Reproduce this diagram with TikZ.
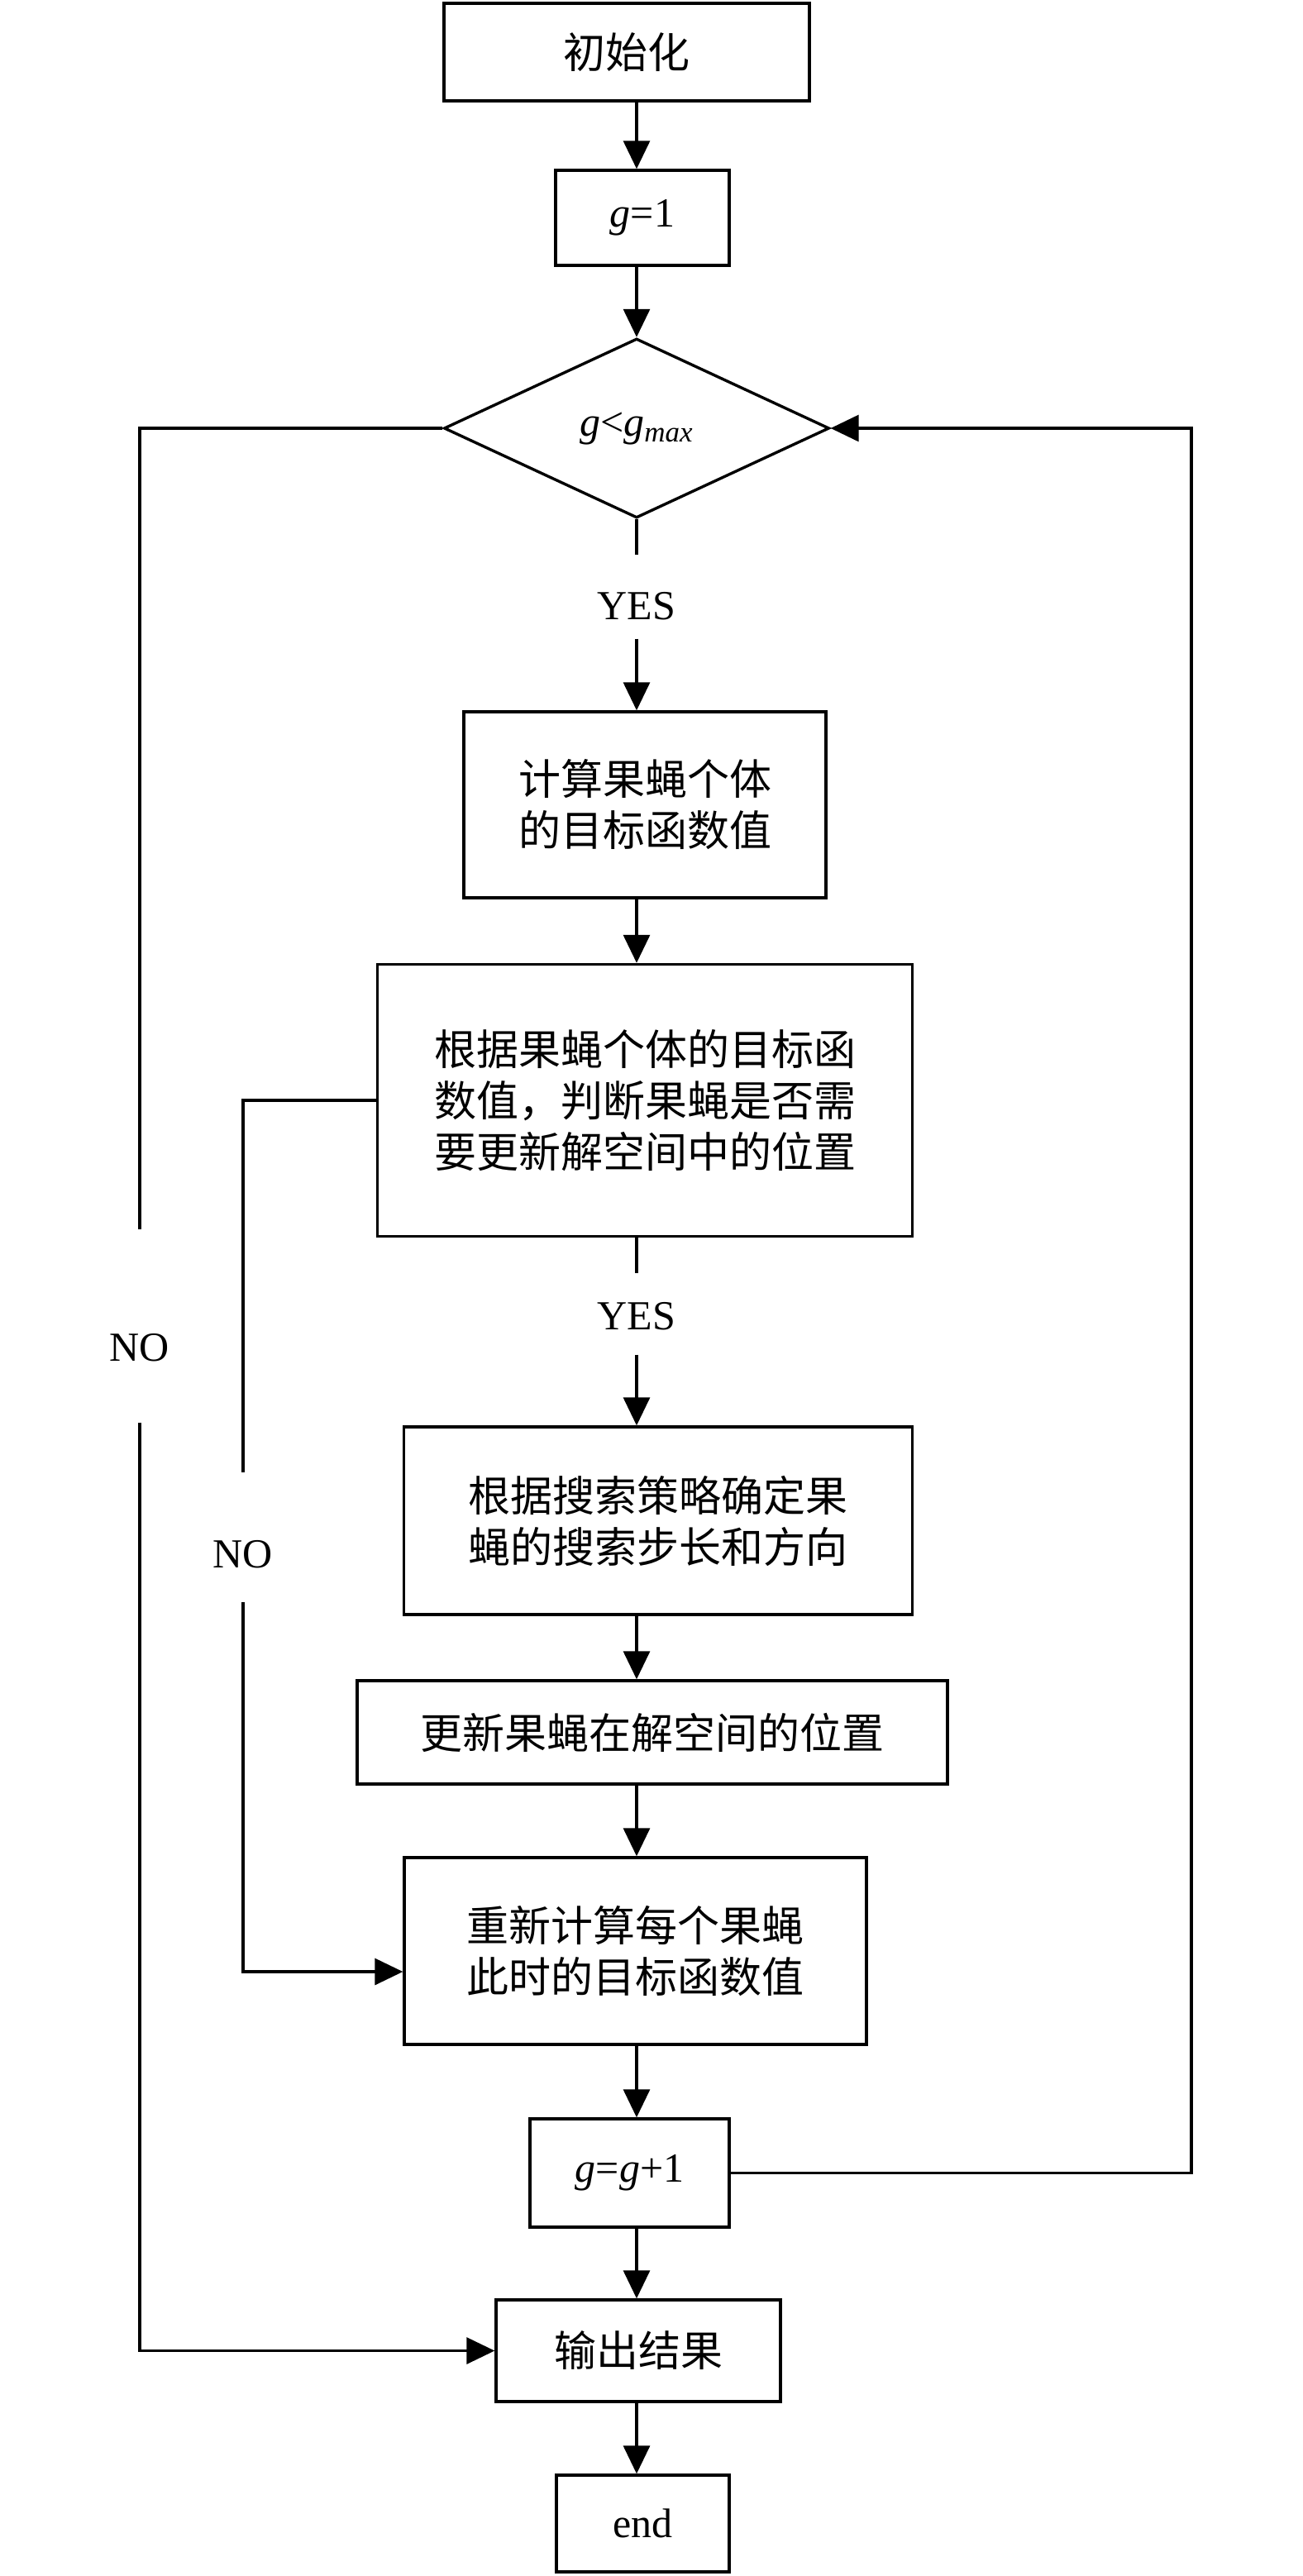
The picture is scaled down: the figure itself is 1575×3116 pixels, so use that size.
\documentclass[tikz,border=0pt]{standalone}
\usepackage{fontspec}
\setmainfont{Liberation Serif}
\newfontfamily\cjk{Noto Sans CJK SC}
\usetikzlibrary{arrows.meta,shapes.geometric}
\begin{document}
\begin{tikzpicture}[x=0.5pt,y=-0.5pt,
  box/.style={draw, line width=1.7pt, inner sep=0pt, align=center,
    font=\cjk\fontsize{25.5pt}{31pt}\selectfont},
  mbox/.style={box, font=\fontsize{25pt}{30pt}\selectfont},
  lbl/.style={inner sep=0pt, font=\fontsize{25pt}{30pt}\selectfont},
  conn/.style={line width=1.6pt},
  arr/.style={conn, -{Triangle[length=17pt,width=16pt]}}]
\useasboundingbox (0,0) rectangle (1575,3116);
\coordinate (ax) at (770,0);
\coordinate (rc) at (1441,0);

\node[box, minimum width=221pt, minimum height=59pt] (init) at (758,63) {初始化};
\node[mbox, minimum width=105pt, minimum height=57.5pt] (g1) at (777,263.5) {\textit{g}=1};
\node[draw, line width=1.7pt, shape=diamond, inner sep=0pt, minimum width=233pt, minimum height=108.5pt,
  font=\fontsize{25pt}{30pt}\selectfont] (dia) at (770,518) {\textit{g}<\textit{g}\textsubscript{\textit{max}}};
\node[lbl] (yes1) at (770,733) {YES};
\node[box, minimum width=219pt, minimum height=112.5pt] (calc1) at (780,973.5) {计算果蝇个体\\的目标函数值};
\node[box, minimum width=323.5pt, minimum height=164.5pt] (judge) at (780,1331) {根据果蝇个体的目标函\\数值，判断果蝇是否需\\要更新解空间中的位置};
\node[lbl] (yes2) at (770,1592) {YES};
\node[box, minimum width=307.5pt, minimum height=113.5pt] (search) at (796,1839.5) {根据搜索策略确定果\\蝇的搜索步长和方向};
\node[box, minimum width=357pt, minimum height=62.5pt] (update) at (789,2095.5) {更新果蝇在解空间的位置};
\node[box, minimum width=279.5pt, minimum height=113pt] (recalc) at (768.5,2360) {重新计算每个果蝇\\此时的目标函数值};
\node[mbox, minimum width=120.5pt, minimum height=65.5pt] (gg1) at (761.5,2628.5) {\textit{g}=\textit{g}+1};
\node[box, minimum width=172pt, minimum height=61.5pt] (out) at (772,2843.5) {输出结果};
\node[mbox, minimum width=104.5pt, minimum height=58.5pt] (end) at (777.5,3052.5) {end};
\node[lbl] (no1) at (169,1630) {NO};
\node[lbl] (no2) at (294,1880) {NO};

% main flow
\draw[arr] (init.south -| ax) -- (g1.north -| ax);
\draw[arr] (g1.south -| ax) -- (dia.north);
\draw[conn] (dia.south) -- ([yshift=22.25pt]yes1.north);
\draw[arr] ([yshift=-11.25pt]yes1.south) -- (calc1.north -| ax);
\draw[arr] (calc1.south -| ax) -- (judge.north -| ax);
\draw[conn] (judge.south -| ax) -- ([yshift=17.25pt]yes2.north);
\draw[arr] ([yshift=-14.75pt]yes2.south) -- (search.north -| ax);
\draw[arr] (search.south -| ax) -- (update.north -| ax);
\draw[arr] (update.south -| ax) -- (recalc.north -| ax);
\draw[arr] (recalc.south -| ax) -- (gg1.north -| ax);
\draw[arr] (gg1.south -| ax) -- (out.north -| ax);
\draw[arr] (out.south -| ax) -- (end.north -| ax);

% outer NO loop
\draw[conn] (dia.west) -| ([yshift=62.75pt]no1.north);
\draw[arr] ([yshift=-36.75pt]no1.south) |- (out.west);

% inner NO loop
\draw[conn] (judge.west) -| ([yshift=40.75pt]no2.north);
\draw[arr] ([yshift=-20.25pt]no2.south) |- ([yshift=-12.5pt]recalc.west);

% loop back
\draw[arr] (gg1.east) -| (rc |- dia.east) -- (dia.east);
\end{tikzpicture}
\end{document}
